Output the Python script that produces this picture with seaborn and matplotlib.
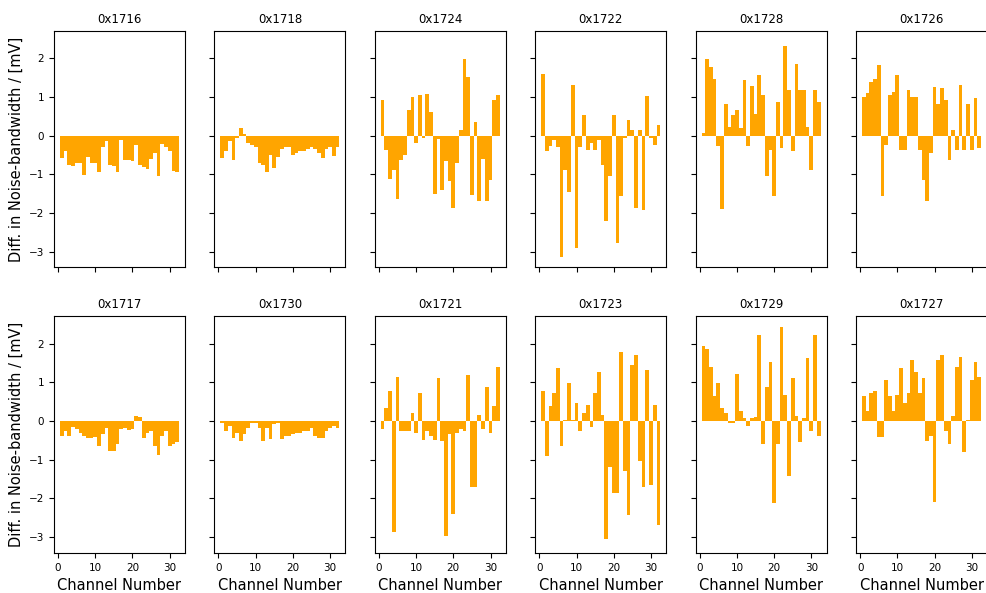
import matplotlib
matplotlib.use("Agg")
import matplotlib.pyplot as plt
import seaborn as sns
import pandas as pd

channels = list(range(1, 33))

titles_top = ["0x1716", "0x1718", "0x1724", "0x1722", "0x1728", "0x1726"]
titles_bottom = ["0x1717", "0x1730", "0x1721", "0x1723", "0x1729", "0x1727"]

v_1716 = [-0.58, -0.40, -0.75, -0.78, -0.70, -0.72, -1.03, -0.55, -0.70, -0.72, -0.93, -0.30,
          -0.15, -0.77, -0.78, -0.95, -0.12, -0.62, -0.62, -0.65, -0.25, -0.77, -0.80, -0.87,
          -0.60, -0.45, -1.04, -0.22, -0.30, -0.40, -0.92, -0.93]
v_1718 = [-0.58, -0.40, -0.15, -0.62, -0.05, 0.20, 0.05, -0.20, -0.25, -0.30, -0.70, -0.75,
          -0.95, -0.50, -0.85, -0.55, -0.35, -0.30, -0.30, -0.50, -0.45, -0.40, -0.40, -0.35,
          -0.30, -0.35, -0.45, -0.58, -0.35, -0.30, -0.52, -0.30]
v_1724 = [0.92, -0.37, -1.12, -0.88, -1.65, -0.63, -0.50, 0.66, 1.00, -0.20, 1.04, -0.07,
          1.07, 0.62, -1.52, -0.10, -1.40, -0.67, -1.18, -1.87, -0.70, 0.15, 1.99, 1.52,
          -1.53, 0.36, -1.70, -0.60, -1.70, -1.14, 0.92, 1.05]
v_1722 = [1.60, -0.41, -0.28, -0.11, -0.30, -3.13, -0.88, -1.47, 1.32, -2.92, -0.30, 0.53,
          -0.37, -0.20, -0.37, -0.11, -0.75, -2.21, -1.05, 0.53, -2.77, -1.57, -0.07, 0.40,
          0.15, -1.87, 0.15, -1.93, 1.02, -0.07, -0.24, 0.27]
v_1728 = [0.06, 1.99, 1.77, 1.47, -0.28, -1.91, 0.83, 0.23, 0.53, 0.66, 0.19, 1.43,
          -0.28, 1.29, 0.57, 1.56, 1.05, -1.04, -0.37, -1.57, 0.87, -0.33, 2.33, 1.17,
          -0.41, 1.84, 1.17, 1.17, 0.23, -0.88, 1.19, 0.87]
v_1726 = [1.00, 1.09, 1.39, 1.47, 1.82, -1.55, -0.24, 1.05, 1.13, 1.56, -0.37, -0.37,
          1.17, 1.00, 1.00, -0.37, -1.14, -1.70, -0.45, 1.26, 0.83, 1.22, 0.92, -0.63,
          0.15, -0.37, 1.30, -0.37, 0.83, -0.37, 0.96, -0.33]

v_1717 = [-0.38, -0.26, -0.38, -0.15, -0.20, -0.30, -0.38, -0.43, -0.43, -0.40, -0.64, -0.34,
          -0.17, -0.77, -0.78, -0.60, -0.21, -0.17, -0.24, -0.21, 0.13, 0.10, -0.43, -0.30,
          -0.26, -0.64, -0.87, -0.38, -0.26, -0.64, -0.60, -0.55]
v_1730 = [-0.05, -0.26, -0.13, -0.43, -0.30, -0.51, -0.34, -0.17, -0.04, -0.04, -0.17, -0.51,
          -0.19, -0.47, -0.08, -0.04, -0.47, -0.38, -0.38, -0.34, -0.30, -0.30, -0.26, -0.26,
          -0.17, -0.38, -0.43, -0.43, -0.26, -0.17, -0.13, -0.17]
v_1721 = [-0.21, 0.34, 0.77, -2.88, 1.15, -0.25, -0.26, -0.26, 0.21, -0.30, 0.72, -0.49,
          -0.26, -0.38, -0.49, 1.12, -0.51, -2.98, -0.34, -2.40, -0.30, -0.21, -0.26, 1.19,
          -1.70, -1.70, 0.17, -0.21, 0.89, -0.30, 0.38, 1.40]
v_1723 = [0.77, -0.89, 0.38, 0.72, 1.38, -0.64, 0.04, 0.98, 0.04, 0.47, -0.26, 0.21,
          0.43, -0.15, 0.72, 1.28, 0.17, -3.05, -1.19, -1.86, -1.86, 1.79, -1.28, -2.43,
          1.45, 1.70, -1.02, -1.70, 1.32, -1.66, 0.43, -2.68]
v_1729 = [1.94, 1.87, 1.40, 0.64, 0.98, 0.34, 0.21, -0.04, -0.04, 1.23, 0.27, 0.09,
          -0.13, 0.09, 0.10, 2.23, -0.58, 0.89, 1.53, -2.13, -0.60, 2.43, 0.68, -1.43,
          1.11, 0.13, -0.55, 0.09, 1.63, -0.26, 2.23, -0.38]
v_1727 = [0.66, 0.26, 0.72, 0.78, -0.41, -0.41, 1.06, 0.64, 0.26, 0.68, 1.38, 0.47,
          0.72, 1.57, 1.28, 0.72, 1.12, -0.51, -0.38, -2.09, 1.57, 1.70, -0.26, -0.60,
          0.13, 1.40, 1.66, -0.81, 0.04, 1.06, 1.53, 1.15]

values_top = [v_1716, v_1718, v_1724, v_1722, v_1728, v_1726]
values_bottom = [v_1717, v_1730, v_1721, v_1723, v_1729, v_1727]

rows = []
for titles, vals in ((titles_top, values_top), (titles_bottom, values_bottom)):
    for t, v in zip(titles, vals):
        for c, d in zip(channels, v):
            rows.append({"module": t, "channel": c, "diff": d})
df = pd.DataFrame(rows)

plt.rcParams["font.family"] = ["DejaVu Sans"]

fig, axes = plt.subplots(2, 6, figsize=(9.87, 5.93), dpi=100, sharex=True, sharey=True)
fig.subplots_adjust(left=0.0547, right=1.0, top=0.948, bottom=0.0675,
                    wspace=0.225, hspace=0.207)

for r, titles in enumerate((titles_top, titles_bottom)):
    for c, t in enumerate(titles):
        ax = axes[r, c]
        sub = df[df["module"] == t]
        sns.barplot(data=sub, x="channel", y="diff", native_scale=True, color="orange",
                    saturation=1, errorbar=None, width=1.0, linewidth=0, ax=ax)
        ax.set_title(t, fontsize=8.5)
        ax.set_xlabel("")
        ax.set_ylabel("")
        ax.tick_params(labelsize=7.5)

for ax in axes[:, 0]:
    ax.set_ylabel("Diff. in Noise-bandwidth / [mV]", fontsize=10.5)
for ax in axes[1, :]:
    ax.set_xlabel("Channel Number", fontsize=10.5)

axes[0, 0].set_xticks([0, 10, 20, 30])
axes[0, 0].set_yticks([-3, -2, -1, 0, 1, 2])
axes[0, 0].set_xlim(-1.1, 34.1)
axes[0, 0].set_ylim(-3.41, 2.71)

fig.savefig("out.png", dpi=100)
